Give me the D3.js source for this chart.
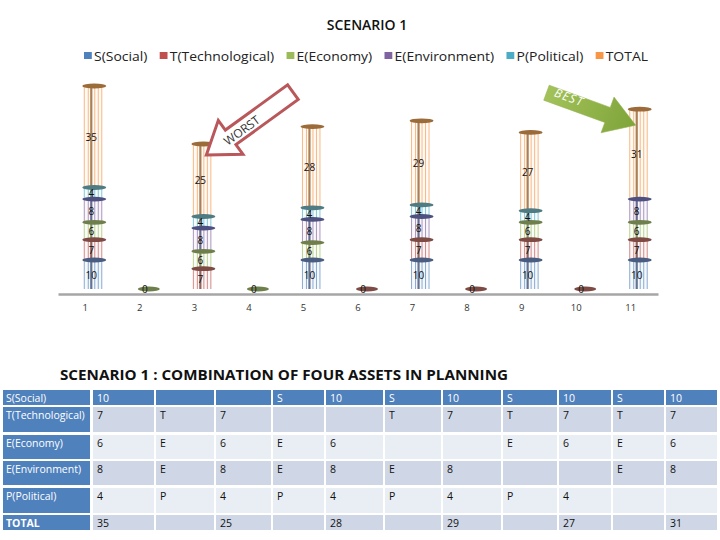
<!DOCTYPE html>
<html>
<head>
<meta charset="utf-8">
<script src="https://cdn.jsdelivr.net/npm/d3@7"></script>
<style>
  body { margin: 0; background: #fff; }
  text { font-family: "Open Sans", "Liberation Sans", sans-serif; }
</style>
</head>
<body>
<script>
// chart values
const categories = [1, 2, 3, 4, 5, 6, 7, 8, 9, 10, 11];
const social        = [10, 0, 0, 0, 10, 0, 10, 0, 10, 0, 10];
const technological = [7, 0, 7, 0, 0, 0, 7, 0, 7, 0, 7];
const economy       = [6, 0, 6, 0, 6, 0, 0, 0, 6, 0, 6];
const environment   = [8, 0, 8, 0, 8, 0, 8, 0, 0, 0, 8];
const political     = [4, 0, 4, 0, 4, 0, 4, 0, 4, 0, 0];
const total         = [35, 0, 25, 0, 28, 0, 29, 0, 27, 0, 31];

const seriesNames = ["S(Social)", "T(Technological)", "E(Economy)", "E(Environment)", "P(Political)", "TOTAL"];
const seriesLetters = ["S", "T", "E", "E", "P", ""];
const seriesValues = [social, technological, economy, environment, political, total];

const lineColors = ["#4F81BD", "#C0504D", "#9BBB59", "#8064A2", "#4BACC6", "#F79646"];
const capColors = ["#4a5d80", "#7e4a44", "#6e7f4c", "#4e5180", "#4f7c83", "#9b6b3a"];

const W = 720, H = 540;

const svg = d3.select("body").append("svg")
  .attr("width", W)
  .attr("height", H);

// titles
svg.append("text")
  .attr("x", 367).attr("y", 30)
  .attr("text-anchor", "middle")
  .attr("font-size", 14).attr("font-weight", 600)
  .attr("fill", "#111")
  .text("SCENARIO 1");

// legend (flow layout)
const legend = svg.append("g").attr("transform", "translate(0,56)");
let lx = 0;
seriesNames.forEach((name, i) => {
  const g = legend.append("g").attr("transform", "translate(" + lx + ",0)");
  g.append("rect").attr("x", 0).attr("y", -4).attr("width", 7).attr("height", 7)
    .attr("fill", lineColors[i]);
  const t = g.append("text").attr("x", 9).attr("y", 4.5)
    .attr("font-size", 12.5).attr("fill", "#222").text(name);
  lx += 9 + t.node().getComputedTextLength() + 11;
});
const legendScale = (648 - 84) / (lx - 11);
legend.attr("transform", "translate(84,56) scale(" + legendScale + ",1)");

// scales
const x = d3.scaleBand().domain(categories).range([58, 658]);
const y = d3.scaleLinear().domain([0, 70]).range([289, 86]);
const cxOf = c => x(c) + x.bandwidth() / 2;

// axis
const axis = svg.append("g").attr("transform", "translate(0,294)")
  .call(d3.axisBottom(x).tickSize(0).tickPadding(10));
axis.select(".domain").attr("stroke", "#a6a6a6").attr("stroke-width", 2.5);
axis.selectAll("text").attr("font-size", 9.5).attr("fill", "#333")
  .attr("font-family", "Open Sans, sans-serif");

// stacked cylinders
const stacked = d3.stack().keys(d3.range(6)).value((d, k) => seriesValues[k][d])(d3.range(categories.length));

const lineOffsets = [-1, 3, 6, 9.5, 13, 16.5];
const lineWidths  = [1, 1, 2.2, 1, 1, 1];

const plot = svg.append("g");
categories.forEach((c, ci) => {
  const cx = cxOf(c);
  const g = plot.append("g");
  if (total[ci] === 0) {
    g.append("ellipse")
      .attr("cx", cx + 9).attr("cy", y(0))
      .attr("rx", 11).attr("ry", 2.5)
      .attr("fill", ci < 5 ? "#6e7f4c" : "#7e4a44");
    g.append("text")
      .attr("x", cx + 5).attr("y", y(0) + 4)
      .attr("text-anchor", "middle").attr("font-size", 10).attr("fill", "#111")
      .text("0");
    return;
  }
  stacked.forEach((layer, k) => {
    const v = seriesValues[k][ci];
    if (!v) return;
    const y0 = y(layer[ci][0]), y1 = y(layer[ci][1]);
    g.append("rect")
      .attr("x", cx - 1).attr("y", y1).attr("width", 17.5).attr("height", y0 - y1)
      .attr("fill", lineColors[k]).attr("opacity", 0.05);
    lineOffsets.forEach((o, li) => {
      g.append("line")
        .attr("x1", cx + o).attr("x2", cx + o)
        .attr("y1", y0).attr("y2", y1)
        .attr("stroke", li === 2 ? capColors[k] : lineColors[k])
        .attr("stroke-width", lineWidths[li])
        .attr("opacity", li === 2 ? 0.85 : 0.65);
    });
  });
  stacked.forEach((layer, k) => {
    const v = seriesValues[k][ci];
    if (!v) return;
    const y0 = y(layer[ci][0]), y1 = y(layer[ci][1]);
    g.append("ellipse")
      .attr("cx", cx + 9).attr("cy", y1)
      .attr("rx", 12).attr("ry", 2.4)
      .attr("fill", capColors[k]);
    g.append("text")
      .attr("x", cx + 6).attr("y", (y0 + y1) / 2 + 4)
      .attr("text-anchor", "middle").attr("font-size", 10).attr("fill", "#111")
      .text(v);
  });
});

// arrows
function arrowPath(L, hl, hw, sw) {
  return d3.line()([[0, 0], [-hl, -hw], [-hl, -sw], [-L, -sw], [-L, sw], [-hl, sw], [-hl, hw]]) + "Z";
}
const worstIdx = 2, bestIdx = 10;
const worstTip = [cxOf(categories[worstIdx]) + 12, y(d3.sum(seriesValues, s => s[worstIdx])) + 11];
svg.append("path")
  .attr("d", arrowPath(107, 30, 21, 9))
  .attr("transform", "translate(" + worstTip + ") rotate(144)")
  .attr("fill", "#fff").attr("stroke", "#b9575a").attr("stroke-width", 3)
  .attr("stroke-linejoin", "miter");
svg.append("text")
  .attr("transform", "translate(" + (worstTip[0] + 38) + "," + (worstTip[1] - 21) + ") rotate(-36)")
  .attr("text-anchor", "middle").attr("font-size", 12).attr("fill", "#333")
  .text("WORST");

const bestTip = [cxOf(categories[bestIdx]) + 5, y(d3.sum(seriesValues, s => s[bestIdx])) + 16];
const grad = svg.append("defs").append("linearGradient").attr("id", "bestGrad")
  .attr("x1", 0).attr("x2", 1).attr("y1", 0).attr("y2", 0);
grad.append("stop").attr("offset", "0%").attr("stop-color", "#a3c25a");
grad.append("stop").attr("offset", "100%").attr("stop-color", "#7ea43a");
svg.append("path")
  .attr("d", arrowPath(95, 30, 19, 8))
  .attr("transform", "translate(" + bestTip + ") rotate(20)")
  .attr("fill", "url(#bestGrad)").attr("stroke", "#92b24c").attr("stroke-width", 0.5);
svg.append("text")
  .attr("transform", "translate(" + (bestTip[0] - 68) + "," + (bestTip[1] - 24) + ") rotate(20)")
  .attr("text-anchor", "middle").attr("font-size", 12).attr("fill", "#fff")
  .attr("letter-spacing", 1.2).attr("font-style", "italic")
  .text("BEST");

// subtitle
svg.append("text")
  .attr("x", 60).attr("y", 380)
  .attr("font-size", 15).attr("font-weight", "bold").attr("fill", "#111")
  .attr("textLength", 448).attr("lengthAdjust", "spacingAndGlyphs")
  .text("SCENARIO 1 : COMBINATION OF FOUR ASSETS IN PLANNING");

// table
const labelX = 3, labelW = 87;
const colWidths = [61, 58, 55, 51, 57, 56, 58, 54, 52, 51, 51];
const colStarts = [];
colWidths.reduce((acc, w) => { colStarts.push(acc); return acc + w + 2; }, 93);
const rowTops = [390, 407, 435, 461, 488, 515];
const rowHeights = [15, 25, 24, 24, 25, 15];
const rowFills = ["#4F81BD", "#CFD7E6", "#E9EDF4", "#CFD7E6", "#E9EDF4", "#CFD7E6"];

const table = svg.append("g");
seriesNames.forEach((name, r) => {
  const top = rowTops[r], h = rowHeights[r];
  const base = r === 0 || r === 5 ? top + 11.5 : top + 12;
  table.append("rect").attr("x", labelX).attr("y", top).attr("width", labelW).attr("height", h)
    .attr("fill", "#4F81BD");
  const lt = table.append("text").attr("x", labelX + 3).attr("y", base)
    .attr("font-size", 10.5).attr("fill", "#fff")
    .attr("font-weight", r === 5 ? "bold" : "normal")
    .text(name);
  if (lt.node().getComputedTextLength() > labelW - 5) {
    lt.attr("textLength", labelW - 5).attr("lengthAdjust", "spacingAndGlyphs");
  }
  const vals = seriesValues[r];
  categories.forEach((c, ci) => {
    let txt = "";
    if (ci % 2 === 0) {
      txt = vals[ci] ? String(vals[ci]) : "";
    } else {
      txt = vals[ci + 1] ? seriesLetters[r] : "";
    }
    table.append("rect").attr("x", colStarts[ci]).attr("y", top)
      .attr("width", colWidths[ci]).attr("height", h).attr("fill", rowFills[r]);
    table.append("text").attr("x", colStarts[ci] + 4).attr("y", base)
      .attr("font-size", 10.5).attr("fill", r === 0 ? "#fff" : "#111")
      .text(txt);
  });
});
</script>
</body>
</html>
